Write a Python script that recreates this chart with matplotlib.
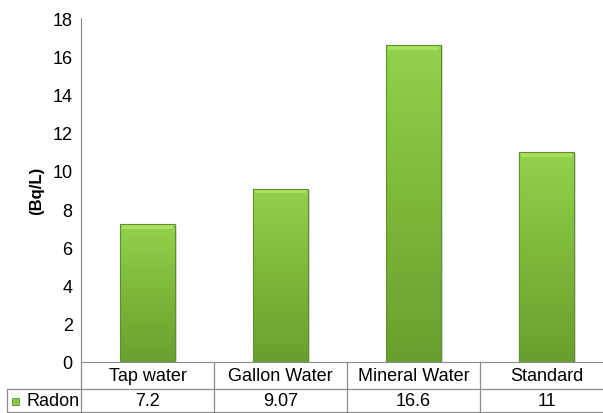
import numpy as np
import matplotlib.pyplot as plt
from matplotlib.patches import Rectangle
from matplotlib.colors import LinearSegmentedColormap
import matplotlib.transforms as mtransforms

plt.rcParams['font.family'] = ['Liberation Sans', 'DejaVu Sans']

categories = ["Tap water", "Gallon Water", "Mineral Water", "Standard"]
radon = [7.2, 9.07, 16.6, 11]
radon_labels = ["7.2", "9.07", "16.6", "11"]
yticks = [0, 2, 4, 6, 8, 10, 12, 14, 16, 18]

W, H = 603, 414
fs = 13
fig = plt.figure(figsize=(W / 100, H / 100), dpi=100)
# the plot area runs a bit past the right edge of the picture
ax = fig.add_axes([81 / W, (H - 363) / H, (613 - 81) / W, (363 - 19) / H])

x = np.arange(len(categories))
bar_w = 0.41

grad = LinearSegmentedColormap.from_list("g", ["#68a02e", "#7db83a", "#93d24c"])
img = np.linspace(0, 1, 256).reshape(-1, 1)
for xi, v in zip(x, radon):
    # soft shadow
    sh = Rectangle((xi - bar_w / 2 + 0.02, 0), bar_w, v - 0.05,
                   facecolor="#c8c8c8", edgecolor="none", alpha=0.6, zorder=1)
    ax.add_patch(sh)
    rect = Rectangle((xi - bar_w / 2, 0), bar_w, v, facecolor="none",
                     edgecolor="#5f8f2a", linewidth=0.8, zorder=3)
    ax.add_patch(rect)
    im = ax.imshow(img, cmap=grad, origin="lower", aspect="auto",
                   extent=(xi - bar_w / 2, xi + bar_w / 2, 0, v), zorder=2)
    im.set_clip_path(rect)
    # bevel highlight on top
    ax.add_patch(Rectangle((xi - bar_w / 2 + 0.01, v - 0.25), bar_w - 0.02, 0.2,
                           facecolor="#a8e060", edgecolor="none", zorder=2.5))
ax.set_xlim(-0.5, len(categories) - 0.5)
ax.set_ylim(0, 18)

ax.set_yticks(yticks)
ax.set_xticks([])
ax.tick_params(axis="y", length=0, pad=6, labelsize=fs, colors="#000000")
for s in ["top", "right"]:
    ax.spines[s].set_visible(False)
ax.spines["left"].set_color("#8c8c8c")
ax.spines["bottom"].set_color("#8c8c8c")
ax.set_ylabel("(Bq/L)", fontsize=12, fontweight="bold", labelpad=6)

# data table under the axis
trans = mtransforms.blended_transform_factory(ax.transData, ax.transAxes)
px = 1 / (363 - 19)
r1 = -27 * px
r2 = -50 * px
line_kw = dict(color="#8c8c8c", linewidth=0.9, clip_on=False)
for b in np.arange(-0.5, len(categories) + 0.5, 1.0):
    ax.plot([b, b], [0, r2], transform=trans, **line_kw)
ax.plot([-0.5, len(categories) - 0.5], [r1, r1], transform=trans, **line_kw)
ax.plot([-0.5, len(categories) - 0.5], [r2, r2], transform=trans, **line_kw)

for xi, c, t in zip(x, categories, radon_labels):
    ax.text(xi, r1 / 2, c, transform=trans, ha="center", va="center", fontsize=fs)
    ax.text(xi, (r1 + r2) / 2, t, transform=trans, ha="center", va="center", fontsize=fs)

# row header cell
fl = dict(color="#8c8c8c", linewidth=0.9)
fig.add_artist(plt.Line2D([7 / W, 81 / W], [(H - 390) / H] * 2, transform=fig.transFigure, **fl))
fig.add_artist(plt.Line2D([7 / W, 81 / W], [(H - 413) / H] * 2, transform=fig.transFigure, **fl))
fig.add_artist(plt.Line2D([7 / W, 7 / W], [(H - 390) / H, (H - 413) / H], transform=fig.transFigure, **fl))
fig.add_artist(Rectangle((12 / W, (H - 406) / H), 7 / W, 7 / H, transform=fig.transFigure,
                         facecolor="#8cc84a", edgecolor="#5f8f2a", linewidth=0.6))
fig.text(27 / W, (H - 402) / H, "Radon", ha="left", va="center", fontsize=fs)

fig.savefig("out.png", dpi=100)
